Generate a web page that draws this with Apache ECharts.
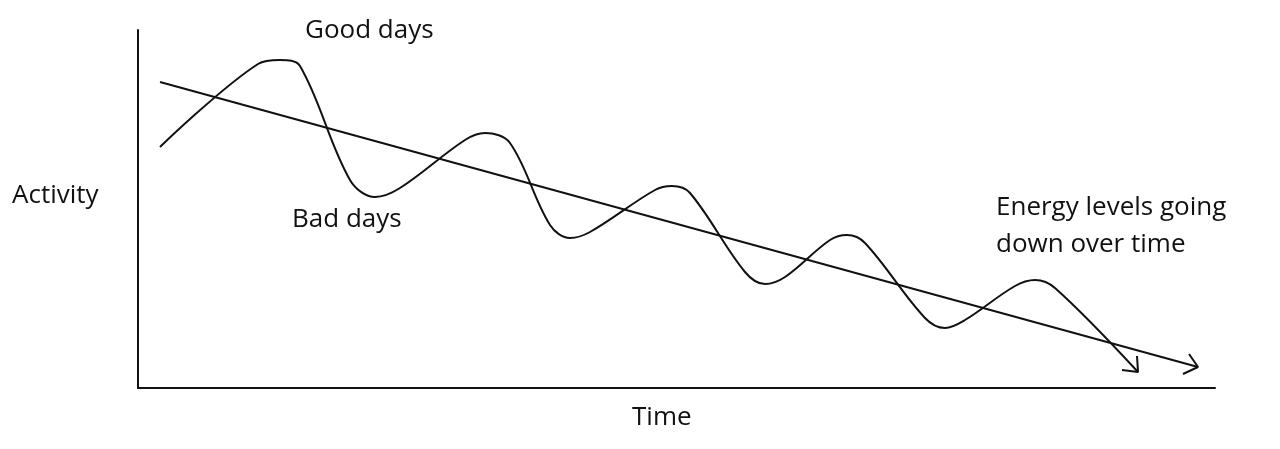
<!DOCTYPE html>
<html><head><meta charset="utf-8">
<script src="https://cdn.jsdelivr.net/npm/echarts@6/dist/echarts.min.js"></script>
<style>html,body{margin:0;padding:0;background:#fff}#c{width:1280px;height:449px}</style>
</head><body><div id="c"></div>
<script>
// Values (time, activity in screen-like units; activity axis inverted)
const waveX = [160,258,280,300,350,375,400,465,485,510,550,570,590,655,672,690,745,765,785,830,847,865,925,945,965,1015,1035,1055,1138];
const waveY = [147,64,60,66,180,197,188,140,133,143,225,238,232,190,186,193,272,284,277,240,235,243,318,328,320,286,280,288,372];
const trendX = [160,1198];
const trendY = [82,367];
const trendHeadX = [1189,1198,1183];
const trendHeadY = [354,367,374];
const waveHeadX = [1137,1138,1122];
const waveHeadY = [356,372,370];
const zip = (a,b)=>a.map((v,i)=>[v,b[i]]);
const ls = {color:'#111',width:2};
const F = '"Open Sans", sans-serif';
const chart = echarts.init(document.getElementById('c'));
chart.setOption({
  animation:false,
  grid:{left:138,top:30,width:1077,height:358},
  xAxis:{type:'value',min:138,max:1215,axisLine:{show:true,lineStyle:{color:'#111',width:2}},axisTick:{show:false},axisLabel:{show:false},splitLine:{show:false}},
  yAxis:{type:'value',min:30,max:388,inverse:true,axisLine:{show:true,onZero:false,lineStyle:{color:'#111',width:2}},axisTick:{show:false},axisLabel:{show:false},splitLine:{show:false}},
  series:[
    {type:'line',data:zip(waveX,waveY),smooth:0.35,showSymbol:false,lineStyle:ls},
    {type:'line',data:zip(trendX,trendY),showSymbol:false,lineStyle:ls},
    {type:'line',data:zip(trendHeadX,trendHeadY),showSymbol:false,lineStyle:ls},
    {type:'line',data:zip(waveHeadX,waveHeadY),showSymbol:false,lineStyle:ls}
  ],
  graphic:[
    {type:'text',left:12,top:183,style:{text:'Activity',font:'26px '+F,fill:'#111'}},
    {type:'text',left:632,top:405,style:{text:'Time',font:'26px '+F,fill:'#111'}},
    {type:'text',left:305,top:18,style:{text:'Good days',font:'26px '+F,fill:'#111'}},
    {type:'text',left:292,top:207,style:{text:'Bad days',font:'26px '+F,fill:'#111'}},
    {type:'text',left:996,top:189,style:{text:'Energy levels going\ndown over time',font:'26px '+F,lineHeight:37,fill:'#111'}}
  ]
});
</script></body></html>
